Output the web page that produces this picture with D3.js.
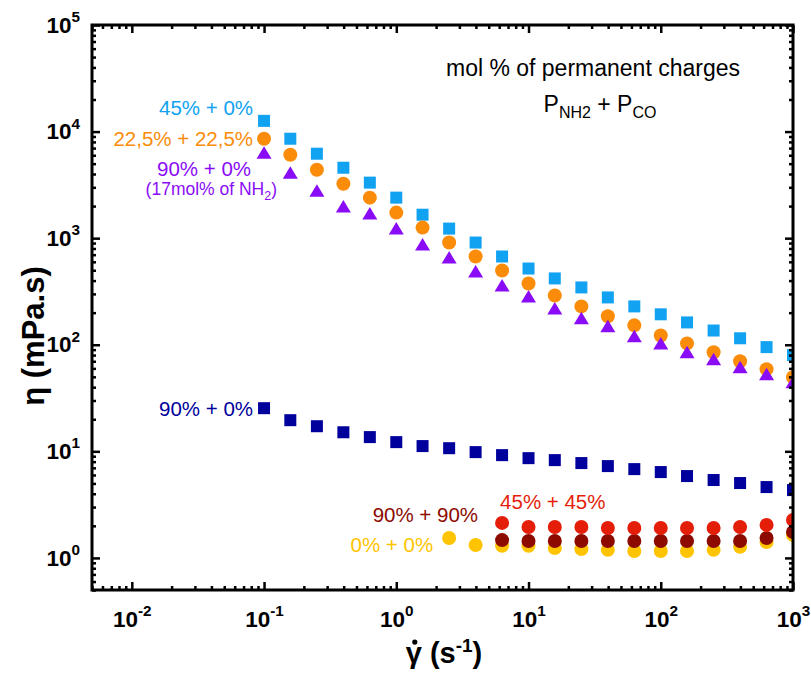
<!DOCTYPE html>
<html>
<head>
<meta charset="utf-8">
<title>Viscosity vs shear rate</title>
<script src="https://cdn.jsdelivr.net/npm/d3@7"></script>
<style>
    body { margin: 0; background: #fff; }
    text { font-family: Arial, "Liberation Sans", sans-serif; }
</style>
</head>
<body>
<script>
// shear rate (s-1), 5 points per decade
let shearRates = [0.1, 0.158, 0.251, 0.398, 0.631, 1, 1.58, 2.51, 3.98, 6.31,
    10, 15.8, 25.1, 39.8, 63.1, 100, 158, 251, 398, 631, 1000]

// viscosity (mPa.s)
let eta45_0 = [12600, 8570, 6200, 4580, 3320, 2400, 1660, 1230, 910, 673,
    519, 419, 345, 278, 229, 193, 162, 136, 115, 95, 80]
let eta225_225 = [8570, 6070, 4390, 3245, 2400, 1737, 1257, 910, 673, 497,
    376, 290, 229, 185, 152, 122, 103, 85, 70, 59, 49.5]
let eta90_0_17 = [6330, 4110, 2790, 1977, 1700, 1230, 871, 658, 487, 360,
    284, 219, 177, 149, 120, 103, 85, 73, 61.4, 52.8, 44.5]
let eta90_0 = [25.4, 19.6, 17.2, 15.1, 13.6, 12.2, 11.2, 10.7, 9.83, 9.21,
    8.63, 8.27, 7.76, 7.27, 6.81, 6.39, 5.86, 5.38, 5.04, 4.62, 4.33]
// these start later in the sweep
let eta0_0 = [1.54, 1.32, 1.30, 1.30, 1.24, 1.21, 1.19, 1.16, 1.16, 1.16, 1.19, 1.27, 1.41, 1.64]     // from 2.51 s-1
let eta90_90 = [1.47, 1.44, 1.44, 1.44, 1.44, 1.44, 1.44, 1.44, 1.44, 1.44, 1.54, 1.75]             // from 6.31 s-1
let eta45_45 = [2.13, 1.95, 1.95, 1.95, 1.91, 1.91, 1.91, 1.91, 1.91, 1.95, 2.04, 2.27]             // from 6.31 s-1

let xMajor = [1e-2, 1e-1, 1, 10, 100, 1000]
let yMajor = [1, 10, 100, 1e3, 1e4, 1e5]

let width = 811, height = 673
let pLeft = 92, pRight = 793, pTop = 25, pBottom = 590

let pts = (vals, start) => vals.map((v, i) => ({x: shearRates[start + i], y: v}))

let series = [
    {id: 's45_0',   color: '#12a2f2', shape: 'square',   data: pts(eta45_0, 0)},
    {id: 's225',    color: '#fb8c0a', shape: 'circle',   data: pts(eta225_225, 0)},
    {id: 's90_17',  color: '#8a0cf7', shape: 'triangle', data: pts(eta90_0_17, 0)},
    {id: 's90_0',   color: '#00009c', shape: 'square',   data: pts(eta90_0, 0)},
    {id: 's0_0',    color: '#ffc400', shape: 'circle',   data: pts(eta0_0, 7)},
    {id: 's90_90',  color: '#8c0a00', shape: 'circle',   data: pts(eta90_90, 9)},
    {id: 's45_45',  color: '#e51e0a', shape: 'circle',   data: pts(eta45_45, 9)}
]

// labels placed next to the first point of a series
let notes = [
    {s: 's45_0',  text: '45% + 0%',       dx: -11, dy: -6,  anchor: 'end'},
    {s: 's225',   text: '22,5% + 22,5%',  dx: -11, dy: 7,   anchor: 'end'},
    {s: 's90_17', text: '90% + 0%',       dx: -13, dy: 23,  anchor: 'end'},
    {s: 's90_0',  text: '90% + 0%',       dx: -11, dy: 8,   anchor: 'end'},
    {s: 's90_90', text: '90% + 90%',      dx: -24, dy: -18, anchor: 'end'},
    {s: 's45_45', text: '45% + 45%',      dx: -2,  dy: -14, anchor: 'start'},
    {s: 's0_0',   text: '0% + 0%',        dx: -16, dy: 14,  anchor: 'end'}
]

let x = d3.scaleLog().domain([0.005, 1000]).range([pLeft, pRight])
let y = d3.scaleLog().domain([0.5, 1e5]).range([pBottom, pTop])

let minors = function(lo, hi){
    let out = []
    for (let e = Math.floor(Math.log10(lo)); e <= Math.ceil(Math.log10(hi)); e++)
        for (let k = 2; k < 10; k++) {
            let v = k * Math.pow(10, e)
            if (v >= lo && v <= hi) out.push(v)
        }
    return out
}

let svg = d3.select('body').append('svg')
    .attr('width', width)
    .attr('height', height)

svg.append('rect').attr('width', width).attr('height', height).attr('fill', '#fff')

svg.append('clipPath').attr('id', 'plot')
    .append('rect')
    .attr('x', pLeft).attr('y', pTop)
    .attr('width', pRight - pLeft).attr('height', pBottom - pTop)

let marks = svg.append('g').attr('clip-path', 'url(#plot)')

series.forEach(s => {
    let g = marks.append('g').attr('fill', s.color)
    let sel = g.selectAll('.m').data(s.data).enter()
    if (s.shape == 'square')
        sel.append('rect')
            .attr('x', d => x(d.x) - 6).attr('y', d => y(d.y) - 6)
            .attr('width', 12).attr('height', 12)
    else if (s.shape == 'circle')
        sel.append('circle')
            .attr('cx', d => x(d.x)).attr('cy', d => y(d.y)).attr('r', 7)
    else
        sel.append('path')
            .attr('d', 'M0,-6.5L7.5,6L-7.5,6Z')
            .attr('transform', d => 'translate(' + x(d.x) + ',' + y(d.y) + ')')
})

// series labels
notes.forEach(n => {
    let s = series.find(d => d.id == n.s)
    let p = s.data[0]
    svg.append('text')
        .attr('x', x(p.x) + n.dx)
        .attr('y', y(p.y) + n.dy)
        .attr('text-anchor', n.anchor)
        .attr('fill', s.color)
        .attr('font-size', 20.5)
        .text(n.text)
})
let purple = series[2]
let sub = svg.append('text')
    .attr('x', x(purple.data[0].x) + 13)
    .attr('y', y(purple.data[0].y) + 42)
    .attr('text-anchor', 'end')
    .attr('fill', purple.color)
    .attr('font-size', 17.5)
sub.append('tspan').text('(17mol% of NH')
sub.append('tspan').attr('dy', 5).attr('font-size', 12.5).text('2')
sub.append('tspan').attr('dy', -5).text(')')

// legend title
svg.append('text')
    .attr('x', 593).attr('y', 76)
    .attr('text-anchor', 'middle')
    .attr('font-size', 23)
    .text('mol % of permanent charges')
let pt = svg.append('text')
    .attr('x', 600).attr('y', 112)
    .attr('text-anchor', 'middle')
    .attr('font-size', 23)
pt.append('tspan').text('P')
pt.append('tspan').attr('dy', 6).attr('font-size', 16).text('NH2')
pt.append('tspan').attr('dy', -6).text(' + P')
pt.append('tspan').attr('dy', 6).attr('font-size', 16).text('CO')

// axes: ticks point inward on all four sides
let sup = function(g){
    g.selectAll('.tick text').each(function(d){
        let t = d3.select(this).text('10')
        t.append('tspan').attr('dy', '-0.7em').attr('font-size', '0.68em')
            .text(Math.round(Math.log10(d)))
    })
}
let style = function(g){
    g.select('.domain').remove()
    g.selectAll('.tick line').attr('stroke', '#000').attr('stroke-width', 2.5)
    g.selectAll('.tick text').attr('fill', '#000')
        .attr('font-family', 'Arial, "Liberation Sans", sans-serif')
        .attr('font-weight', 'bold').attr('font-size', 22.5)
}
let none = () => ''

svg.append('g').attr('transform', 'translate(0,' + pBottom + ')')
    .call(d3.axisBottom(x).tickValues(minors(0.005, 1000)).tickSize(-4).tickFormat(none)).call(style)
svg.append('g').attr('transform', 'translate(0,' + pBottom + ')')
    .call(d3.axisBottom(x).tickValues(xMajor).tickSize(-8).tickPadding(21)).call(style).call(sup)
svg.append('g').attr('transform', 'translate(0,' + pTop + ')')
    .call(d3.axisTop(x).tickValues(minors(0.005, 1000)).tickSize(-4).tickFormat(none)).call(style)
svg.append('g').attr('transform', 'translate(0,' + pTop + ')')
    .call(d3.axisTop(x).tickValues(xMajor).tickSize(-8).tickFormat(none)).call(style)

svg.append('g').attr('transform', 'translate(' + pLeft + ',0)')
    .call(d3.axisLeft(y).tickValues(minors(0.5, 1e5)).tickSize(-4).tickFormat(none)).call(style)
svg.append('g').attr('transform', 'translate(' + pLeft + ',0)')
    .call(d3.axisLeft(y).tickValues(yMajor).tickSize(-8).tickPadding(12)).call(style).call(sup)
svg.append('g').attr('transform', 'translate(' + pRight + ',0)')
    .call(d3.axisRight(y).tickValues(minors(0.5, 1e5)).tickSize(-4).tickFormat(none)).call(style)
svg.append('g').attr('transform', 'translate(' + pRight + ',0)')
    .call(d3.axisRight(y).tickValues(yMajor).tickSize(-8).tickFormat(none)).call(style)

svg.append('rect')
    .attr('x', pLeft).attr('y', pTop)
    .attr('width', pRight - pLeft).attr('height', pBottom - pTop)
    .attr('fill', 'none').attr('stroke', '#000').attr('stroke-width', 3)

// axis titles
svg.append('text')
    .attr('transform', 'translate(44,336) rotate(-90)')
    .attr('text-anchor', 'middle')
    .attr('font-weight', 'bold').attr('font-size', 31)
    .text('\u03b7 (mPa.s)')

let titleSize = 29, titleBase = 663
let xt = svg.append('text')
    .attr('x', 444).attr('y', titleBase)
    .attr('text-anchor', 'middle')
    .attr('font-weight', 'bold').attr('font-size', titleSize)
xt.append('tspan').text('\u03b3 (s')
xt.append('tspan').attr('dy', -11).attr('font-size', 19).text('-1')
xt.append('tspan').attr('dy', 11).text(')')

// dot over gamma (shear rate)
let g0 = xt.node().getExtentOfChar(0)
svg.append('circle')
    .attr('cx', g0.x + g0.width / 2 + 1)
    .attr('cy', titleBase - 0.72 * titleSize)
    .attr('r', 2.6)
    .attr('fill', '#000')
</script>
</body>
</html>
